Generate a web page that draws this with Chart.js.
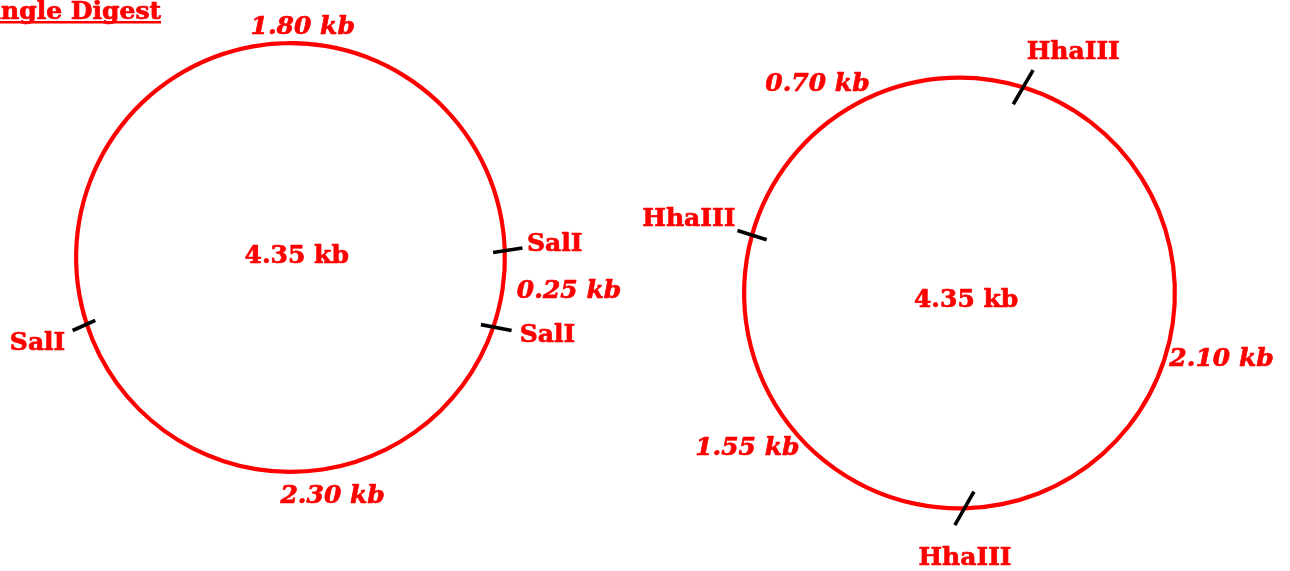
<!DOCTYPE html>
<html>
<head>
<meta charset="utf-8">
<script src="https://cdn.jsdelivr.net/npm/chart.js@4.4.1/dist/chart.umd.min.js"></script>
<style>
  html, body { margin: 0; padding: 0; background: #ffffff; overflow: hidden; }
  #wrap { position: relative; width: 1290px; height: 571px; }
  canvas { position: absolute; left: 0; top: 0; }
</style>
</head>
<body>
<div id="wrap">
  <canvas id="salMap" width="1290" height="571"></canvas>
  <canvas id="hhaMap" width="1290" height="571"></canvas>
</div>
<script>
// ---- data ----
const plasmidSizeKb = 4.35;
const titleText = 'Single Digest';

// SalI map (clockwise, starting at the upper-right SalI site)
const salFragmentsKb = [0.25, 2.30, 1.80];
const salArcDeg = [20.7, 143.0, 196.3];       // drawn arc span of each fragment
const salSites = ['SalI', 'SalI', 'SalI'];
const salFirstSiteDeg = -1.9;                  // angle of first site (0 = east, clockwise)

// HhaIII map (clockwise, starting at the top-right HhaIII site)
const hhaFragmentsKb = [2.10, 1.55, 0.70];
const hhaArcDeg = [161.5, 106.9, 91.6];
const hhaSites = ['HhaIII', 'HhaIII', 'HhaIII'];
const hhaFirstSiteDeg = -72.8;

const kbLabel = v => v.toFixed(2) + ' kb';

const RED = '#ff0000';
const FONT = '"DejaVu Serif", "Liberation Serif", serif';

function boldText(ctx, t, x, y) {
  ctx.fillText(t, x, y);
  ctx.strokeText(t, x, y);
}

const plasmidPlugin = {
  id: 'plasmidMap',
  afterDatasetsDraw(chart, args, opts) {
    const ctx = chart.ctx;
    const meta = chart.getDatasetMeta(0);
    const arcs = meta.data;
    if (!arcs.length) return;
    const cx = arcs[0].x, cy = arcs[0].y;
    const rMid = (arcs[0].outerRadius + arcs[0].innerRadius) / 2;
    const d2r = Math.PI / 180;
    ctx.save();
    // cut-site ticks
    ctx.strokeStyle = opts.tickColor;
    ctx.lineWidth = opts.tickWidth;
    ctx.lineCap = 'butt';
    arcs.forEach((arc, i) => {
      const a = arc.startAngle;
      const r0 = rMid + opts.tickShift;
      const px = cx + Math.cos(a) * r0, py = cy + Math.sin(a) * r0;
      const d = a + opts.tickTilt[i] * d2r;
      const h = opts.tickHalf[i];
      ctx.beginPath();
      ctx.moveTo(px - Math.cos(d) * h, py - Math.sin(d) * h);
      ctx.lineTo(px + Math.cos(d) * h, py + Math.sin(d) * h);
      ctx.stroke();
    });
    ctx.fillStyle = RED;
    ctx.strokeStyle = RED;
    ctx.lineWidth = 0.7;
    ctx.lineJoin = 'round';
    ctx.textAlign = 'center';
    ctx.textBaseline = 'alphabetic';
    const lbls = chart.data.labels;
    const sites = chart.data.datasets[0].sites;
    // fragment labels
    ctx.font = 'italic bold 25px ' + FONT;
    lbls.forEach((t, i) => {
      const [ang, dist] = opts.fragPos[i];
      boldText(ctx, t, cx + Math.cos(ang * d2r) * dist, cy + Math.sin(ang * d2r) * dist + 9);
    });
    // site labels
    ctx.font = 'bold 25px ' + FONT;
    sites.forEach((t, i) => {
      const [ang, dist] = opts.sitePos[i];
      boldText(ctx, t, cx + Math.cos(ang * d2r) * dist, cy + Math.sin(ang * d2r) * dist + 9);
    });
    // total size in the middle
    boldText(ctx, kbLabel(plasmidSizeKb), cx + opts.centerOffset[0], cy + opts.centerOffset[1] + 9);
    // title (partly outside the page on the left)
    if (opts.title) {
      ctx.textAlign = 'right';
      ctx.font = 'bold 25px ' + FONT;
      const w = ctx.measureText(opts.title).width;
      boldText(ctx, opts.title, opts.titleRight, opts.titleBaseline);
      ctx.fillRect(opts.titleRight - w, opts.titleBaseline + 2.5, w, 2.5);
    }
    ctx.restore();
  }
};

function makeMap(id, kb, spans, sites, firstDeg, padding, radius, ring, pluginOpts) {
  return new Chart(document.getElementById(id), {
    type: 'doughnut',
    data: {
      labels: kb.map(kbLabel),
      datasets: [{
        data: spans,
        sites: sites,
        backgroundColor: RED,
        borderWidth: 0,
        hoverOffset: 0
      }]
    },
    options: {
      responsive: false,
      animation: false,
      events: [],
      devicePixelRatio: 1,
      rotation: firstDeg + 90,
      radius: radius,
      cutout: ((radius - ring) / radius * 100) + '%',
      layout: { padding: padding },
      plugins: {
        legend: { display: false },
        tooltip: { enabled: false },
        plasmidMap: pluginOpts
      }
    },
    plugins: [plasmidPlugin]
  });
}

makeMap('salMap', salFragmentsKb, salArcDeg, salSites, salFirstSiteDeg,
  { left: 0, right: 709, top: 0, bottom: 56 }, 216.5, 4.2, {
    tickColor: '#000000', tickWidth: 3.6, tickShift: 3,
    tickTilt: [-7, -8, -6], tickHalf: [14.8, 15.6, 12.4],
    fragPos: [[6.45, 280.3], [79.9, 240.2], [-87.0, 232.8]],
    sitePos: [[-3.25, 264.6], [16.4, 267.9], [161.7, 266.4]],
    centerOffset: [6.2, -3.5],
    title: titleText, titleRight: 161, titleBaseline: 18.5
  });

makeMap('hhaMap', hhaFragmentsKb, hhaArcDeg, hhaSites, hhaFirstSiteDeg,
  { left: 629, right: 0, top: 15, bottom: 0 }, 217.5, 4.2, {
    tickColor: '#000000', tickWidth: 3.6, tickShift: 0,
    tickTilt: [13, 31, 2], tickHalf: [19.7, 19.2, 15.3],
    fragPos: [[13.8, 269.8], [144.2, 261.6], [-124.0, 254.0]],
    sitePos: [[-64.9, 268.2], [88.8, 263.0], [195.6, 281.0]],
    centerOffset: [6.6, 4.5],
    title: null
  });
</script>
</body>
</html>
